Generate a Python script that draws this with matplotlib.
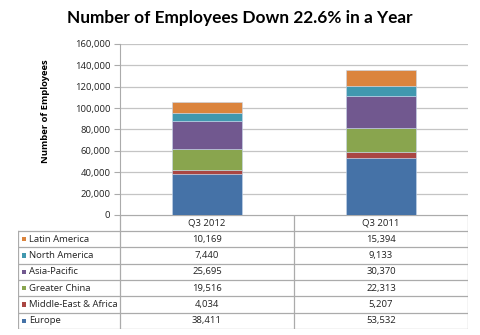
import matplotlib
matplotlib.use("Agg")
import matplotlib.pyplot as plt
import numpy as np

# Data (stacking order: bottom -> top)
quarters = ["Q3 2012", "Q3 2011"]
regions = ["Europe", "Middle-East & Africa", "Greater China",
           "Asia-Pacific", "North America", "Latin America"]
europe = [38411, 53532]
middle_east_africa = [4034, 5207]
greater_china = [19516, 22313]
asia_pacific = [25695, 30370]
north_america = [7440, 9133]
latin_america = [10169, 15394]
series = [europe, middle_east_africa, greater_china,
          asia_pacific, north_america, latin_america]
colors = ["#4572A7", "#AA4643", "#89A54E", "#71588F", "#4198AF", "#DB843D"]
yticks = [0, 20000, 40000, 60000, 80000, 100000, 120000, 140000, 160000]

plt.rcParams["font.family"] = ["Open Sans", "DejaVu Sans"]
W, H = 480, 335
fig = plt.figure(figsize=(W / 100, H / 100), dpi=100)

grid_c = "#C4C4C4"
line_c = "#ABABAB"

def fx(px):
    return px / W

def fy(py):
    return 1 - py / H

# ---- chart area ----
x_left, x_right, y_top, y_bot = 120, 468, 44, 215
ax = fig.add_axes([fx(x_left), fy(y_bot), fx(x_right - x_left), (y_bot - y_top) / H])
x = np.arange(len(quarters))
bottom = np.zeros(len(quarters))
for vals, col in zip(series, colors):
    ax.bar(x, vals, width=0.40, bottom=bottom, color=col,
           edgecolor="#C6D6EA", linewidth=0.4, zorder=3)
    bottom += np.array(vals)

ax.set_xlim(-0.5, len(quarters) - 0.5)
ax.set_ylim(yticks[0], yticks[-1])
ax.set_yticks(yticks)
ax.set_yticklabels([f"{v:,}" for v in yticks], fontsize=6.8, color="#222222")
ax.set_xticks([])
ax.yaxis.grid(True, color=grid_c, linewidth=0.9, zorder=0)
for s in ["top", "right", "bottom"]:
    ax.spines[s].set_visible(False)
ax.spines["left"].set_color(line_c)
ax.tick_params(axis="y", length=4, color=line_c, pad=3)
ax.set_ylabel("Number of Employees", fontsize=6.8, fontweight="bold")
ax.yaxis.set_label_coords(-0.2, 0.61)

fig.text(0.5, fy(18), "Number of Employees Down 22.6% in a Year",
         ha="center", va="center", fontsize=12.4, fontweight="bold",
         family=["Lato", "DejaVu Sans"])

# ---- data table ----
t_left, t_right, t_top, t_bot = 18, 468, 215, 329
header_bot = 231
col_edges = [t_left, x_left, 294, t_right]
tax = fig.add_axes([fx(t_left), fy(t_bot), fx(t_right - t_left), (t_bot - t_top) / H])
tax.set_xlim(t_left, t_right)
tax.set_ylim(t_bot, t_top)
tax.axis("off")

n_rows = len(regions)
row_h = (t_bot - header_bot) / n_rows
row_lines = [header_bot + i * row_h for i in range(n_rows + 1)]

# horizontal lines
tax.plot([x_left, t_right], [t_top, t_top], color=line_c, lw=0.9)
for yy in row_lines:
    tax.plot([t_left, t_right], [yy, yy], color=line_c, lw=0.9)
# vertical lines
tax.plot([t_left, t_left], [header_bot, t_bot], color=line_c, lw=0.9)
for xx in col_edges[1:]:
    tax.plot([xx, xx], [t_top, t_bot], color=line_c, lw=0.9)

# header
for i, q in enumerate(quarters):
    cx = (col_edges[i + 1] + col_edges[i + 2]) / 2
    tax.text(cx, (t_top + header_bot) / 2, q, ha="center", va="center",
             fontsize=6.8, color="#222222")

# rows, top row = last stacked series
for r in range(n_rows):
    idx = n_rows - 1 - r
    cy = header_bot + (r + 0.5) * row_h
    tax.add_patch(plt.Rectangle((21.5, cy - 2.3), 4.6, 4.6, color=colors[idx],
                                lw=0))
    tax.text(29, cy, regions[idx], ha="left", va="center", fontsize=6.8,
             color="#222222")
    for i in range(len(quarters)):
        cx = (col_edges[i + 1] + col_edges[i + 2]) / 2
        tax.text(cx, cy, f"{series[idx][i]:,}", ha="center", va="center",
                 fontsize=6.8, color="#222222")

fig.savefig("out.png", dpi=100)
